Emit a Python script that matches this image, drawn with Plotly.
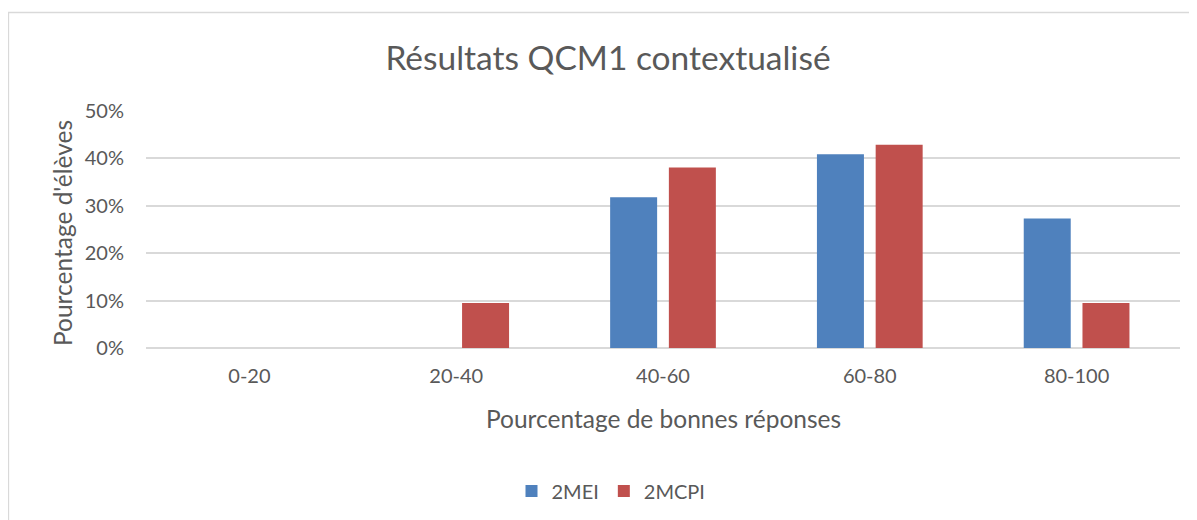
import plotly.graph_objects as go

categories = ["0-20", "20-40", "40-60", "60-80", "80-100"]
mei_values = [0, 0, 0.318, 0.409, 0.273]
mcpi_values = [0, 0.095, 0.381, 0.429, 0.095]
series_names = ["2MEI", "2MCPI"]
y_ticks = [0, 0.1, 0.2, 0.3, 0.4, 0.5]

FONT = "Lato"
TXT = "#595959"

fig = go.Figure()
fig.add_trace(go.Bar(x=categories, y=mei_values, name=series_names[0],
                     marker=dict(color="#4F81BD", line=dict(width=0))))
fig.add_trace(go.Bar(x=categories, y=mcpi_values, name=series_names[1],
                     marker=dict(color="#C0504D", line=dict(width=0))))

# page body has an 8px margin: figure coordinates = window coordinates - 8
W, H = 1189, 512
L, T = 138, 103
R = W - 1172
B = H - 340
pw, ph = W - L - R, H - T - B

def px_x(x):  # window x -> paper x
    return (x - 8 - L) / pw

def px_y(y):  # window y -> paper y
    return 1 - (y - 8 - T) / ph

fig.update_layout(
    width=W, height=H,
    margin=dict(l=L, r=R, t=T, b=B),
    paper_bgcolor="white", plot_bgcolor="white",
    barmode="group", bargap=0.432, bargroupgap=0.2,
    font=dict(family=FONT, color=TXT, size=20),
    title=dict(text="Résultats QCM1 contextualisé", x=600 / W, xanchor="center",
               y=1 - 50 / H, yanchor="middle", xref="container", yref="container",
               font=dict(size=33.5, color=TXT, family=FONT)),
    xaxis=dict(showgrid=False, showline=False, ticks="", tickfont=dict(size=20, color=TXT),
               ticklabelstandoff=14),
    yaxis=dict(range=[0, 0.5], tickvals=y_ticks, tickformat=".0%", showgrid=True,
               gridcolor="#D9D9D9", gridwidth=1.5, zeroline=True, zerolinecolor="#D9D9D9", zerolinewidth=1.5,
               showline=False, ticks="", ticklabelstandoff=21, tickfont=dict(size=20, color=TXT)),
    legend=dict(orientation="h", x=603 / W, xanchor="center", xref="container",
                y=1 - 483 / H, yanchor="middle", yref="container",
                font=dict(size=20, color=TXT), itemwidth=30, traceorder="normal"),
    annotations=[
        dict(text="Pourcentage de bonnes réponses", xref="paper", yref="paper",
             x=px_x(663), y=px_y(418), xanchor="center", yanchor="middle", showarrow=False,
             font=dict(size=24.5, color=TXT, family=FONT)),
        dict(text="Pourcentage d'élèves", xref="paper", yref="paper", textangle=-90,
             x=px_x(62), y=px_y(233), xanchor="center", yanchor="middle", showarrow=False,
             font=dict(size=24.5, color=TXT, family=FONT)),
    ],
    shapes=[dict(type="rect", xref="paper", yref="paper",
                 x0=px_x(8.5), x1=px_x(1230),
                 y0=px_y(560), y1=px_y(12.5),
                 line=dict(color="#D9D9D9", width=1.3), fillcolor="rgba(0,0,0,0)", layer="below")],
)

fig.write_html("out.html")
